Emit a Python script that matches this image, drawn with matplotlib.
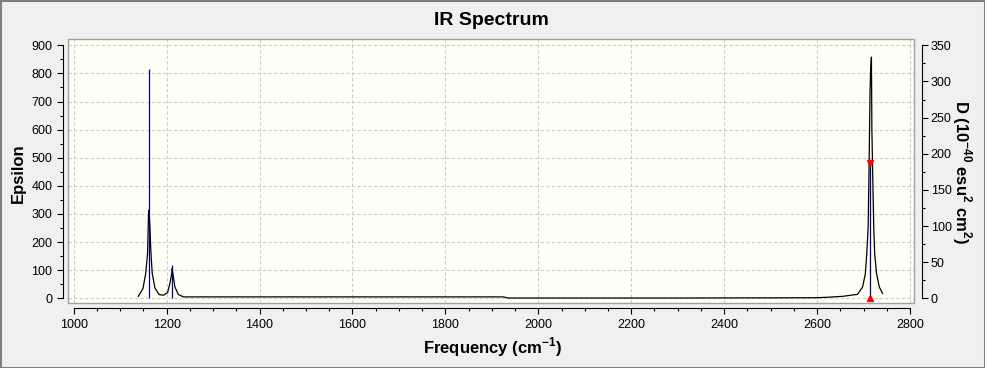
import matplotlib
matplotlib.use("Agg")
import matplotlib.pyplot as plt
from matplotlib.patches import Rectangle
from matplotlib.ticker import FixedLocator

# ---------------- data ----------------
freq_curve = [1139, 1149, 1155, 1159, 1161, 1162, 1164, 1166, 1169, 1175, 1184,
              1193, 1202, 1207, 1211, 1212, 1214, 1218, 1225, 1236, 1600, 1925,
              1935, 2300, 2600, 2625, 2655, 2687, 2698, 2704, 2707, 2710, 2712,
              2714, 2715, 2717, 2718, 2720, 2722, 2724, 2728, 2734, 2741]
eps_curve = [7, 34, 88, 159, 295, 313, 254, 171, 89, 36, 13,
             11, 20, 52, 88, 106, 82, 40, 14, 5, 5, 5,
             1, 1, 2, 4, 7, 14, 40, 88, 159, 254, 479,
             728, 799, 858, 600, 420, 254, 159, 88, 40, 17]

stick_freq = [1163, 1212, 2715]
stick_D = [317, 46, 187]
selected_freq = [2715]
selected_D = [187]

x_ticks = [1000, 1200, 1400, 1600, 1800, 2000, 2200, 2400, 2600, 2800]
eps_ticks = [0, 100, 200, 300, 400, 500, 600, 700, 800, 900]
d_ticks = [0, 50, 100, 150, 200, 250, 300, 350]

title = "IR Spectrum"
xlabel = r"Frequency (cm$^{\mathbf{-1}}$)"
ylabel_left = "Epsilon"
ylabel_right = r"D (10$^{\mathbf{-40}}$ esu$^{\mathbf{2}}$ cm$^{\mathbf{2}}$)"

# ---------------- style ----------------
plt.rcParams["font.family"] = ["Liberation Sans", "DejaVu Sans"]
plt.rcParams["mathtext.fontset"] = "custom"
plt.rcParams["mathtext.rm"] = "Liberation Sans"
plt.rcParams["mathtext.bf"] = "Liberation Sans:bold"

W, H = 985, 368
fig = plt.figure(figsize=(W / 100, H / 100), dpi=100, facecolor="#f0f0f0")

# axes frame in pixels
fl, fr, ft, fb = 68.3, 914.3, 39.3, 303.3
ax = fig.add_axes([fl / W, 1 - fb / H, (fr - fl) / W, (fb - ft) / H])
ax.set_facecolor("#fffff6")

ax.set_xlim(988.4, 2809.3)
ax.set_ylim(-17.8, 921.3)
ax2 = ax.twinx()
fac = 350 / 900
ax2.set_ylim(-17.8 * fac, 921.3 * fac)
ax2.patch.set_visible(False)

# grid
ax.set_xticks(x_ticks)
ax.set_yticks(eps_ticks)
ax.grid(True, color="#cccccc", linestyle=(0, (3, 2)), linewidth=0.8)
ax.set_axisbelow(True)

# data
ax.plot(freq_curve, eps_curve, color="black", linewidth=0.9, zorder=3)
ax2.vlines(stick_freq, 0, stick_D, color="#000080", linewidth=0.9, zorder=4)
ax2.plot(selected_freq, selected_D, marker="v", color="red", markersize=5, linestyle="none", zorder=5)
ax2.plot(selected_freq, [0], marker="^", color="red", markersize=5, linestyle="none", zorder=5)

# frame
for a in (ax, ax2):
    for s in a.spines.values():
        s.set_visible(False)
ax.add_patch(Rectangle((0, 0), 1, 1, transform=ax.transAxes, fill=False,
                       edgecolor="#a0a0a0", linewidth=1.0, clip_on=False, zorder=6))

px = 72 / 100
sp = ax.spines["left"]
sp.set_visible(True); sp.set_position(("outward", 5.6 * px)); sp.set_bounds(0, 900); sp.set_linewidth(0.8)
sp = ax.spines["bottom"]
sp.set_visible(True); sp.set_position(("outward", 5.0 * px)); sp.set_bounds(1000, 2800); sp.set_linewidth(0.8)
sp = ax2.spines["right"]
sp.set_visible(True); sp.set_position(("outward", 8.0 * px)); sp.set_bounds(0, 350); sp.set_linewidth(0.8)

ax2.set_yticks(d_ticks)
ax.xaxis.set_minor_locator(FixedLocator(list(range(1000, 2801, 50))))
ax.yaxis.set_minor_locator(FixedLocator(list(range(0, 901, 50))))
ax2.yaxis.set_minor_locator(FixedLocator(list(range(0, 351, 25))))

ax.tick_params(axis="both", which="major", direction="out", length=5.7 * px, width=0.8,
               labelsize=9, pad=3.3, color="black")
ax.tick_params(axis="both", which="minor", direction="out", length=3.2 * px, width=0.8, color="black")
ax.tick_params(axis="x", which="major", pad=3.8)
ax2.tick_params(axis="y", which="major", direction="out", length=5.7 * px, width=0.8,
                labelsize=9, pad=2.0)
ax2.tick_params(axis="y", which="minor", direction="out", length=3.2 * px, width=0.8)

# texts
fig.text(491.8 / W, 1 - 20.5 / H, title, ha="center", va="center", fontsize=14, fontweight="bold")
fig.text(492.5 / W, 1 - 347.5 / H, xlabel, ha="center", va="center", fontsize=12, fontweight="bold")
fig.text(18.5 / W, 1 - 172.7 / H, ylabel_left, ha="center", va="center", rotation=90,
         fontsize=12, fontweight="bold")
fig.text(961.7 / W, 1 - 172.5 / H, ylabel_right, ha="center", va="center", rotation=270,
         fontsize=12, fontweight="bold")

# outer border
fig.add_artist(Rectangle((0, 0), 1, 1, transform=fig.transFigure, fill=False,
                         edgecolor="#7f7f7f", linewidth=2.2, clip_on=False))

fig.savefig("out.png", dpi=100, facecolor=fig.get_facecolor())
